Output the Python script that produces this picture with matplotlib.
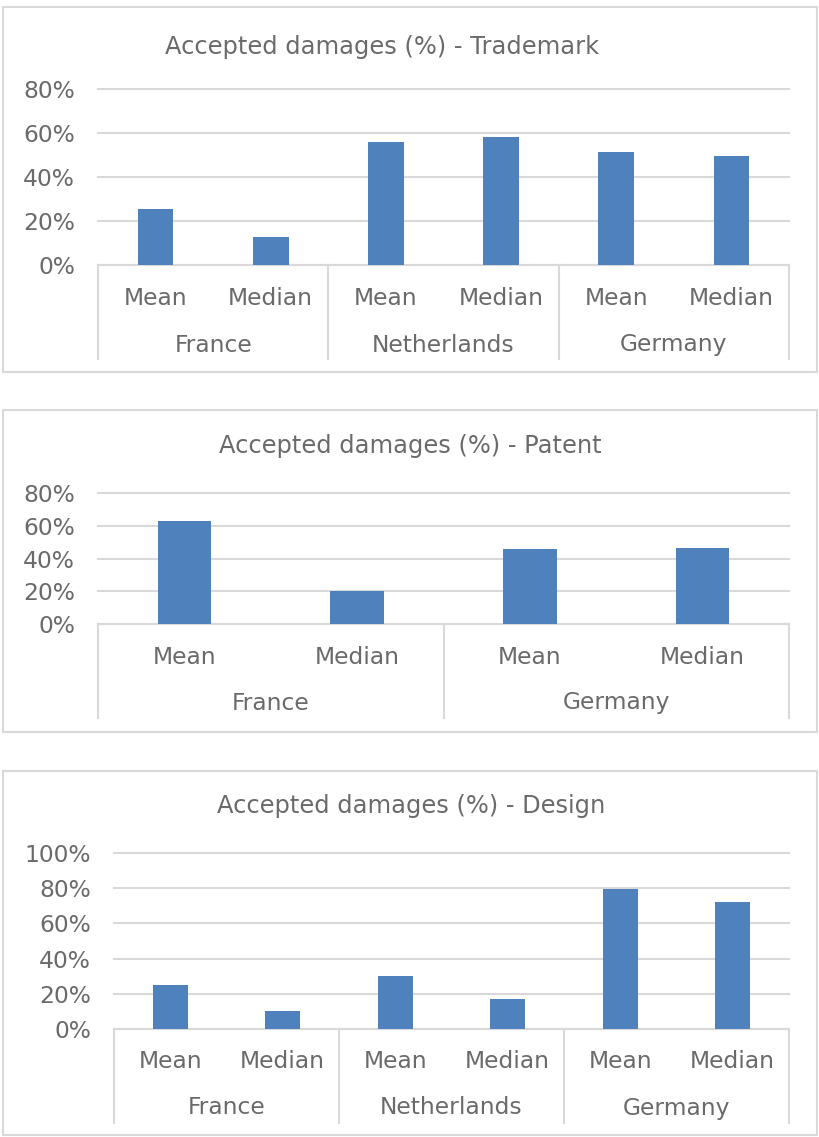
import matplotlib
matplotlib.use("Agg")
import matplotlib.pyplot as plt
from matplotlib.patches import Rectangle
from matplotlib.ticker import PercentFormatter, MultipleLocator

stat_labels = ["Mean", "Median"]

tm_countries = ["France", "Netherlands", "Germany"]
tm_mean = [25.5, 55.9, 51.2]
tm_median = [12.6, 58.3, 49.7]

pat_countries = ["France", "Germany"]
pat_mean = [62.7, 45.6]
pat_median = [20.2, 46.2]

des_countries = ["France", "Netherlands", "Germany"]
des_mean = [24.9, 30.0, 79.6]
des_median = [10.4, 17.2, 72.4]

W, H = 819, 1137
BAR = "#4F81BD"
GRID = "#D9D9D9"
TXT = "#6A6A6A"
FS = 16.8
TFS = 17.4
plt.rcParams['font.family'] = ['DejaVu Sans']

fig = plt.figure(figsize=(W / 100, H / 100), dpi=100)
fig.patch.set_facecolor("white")


def px_rect(l, t, r, b):
    return [l / W, 1 - b / H, (r - l) / W, (b - t) / H]


def panel(box, plot, title, title_x, title_y, countries, means, medians,
          ymax, stat_y, country_y, sep_bottom):
    bl, bt, br, bb = box
    fig.patches.append(Rectangle((bl / W, 1 - bb / H), (br - bl) / W, (bb - bt) / H,
                                 transform=fig.transFigure, fill=False,
                                 edgecolor=GRID, linewidth=1.5))
    fig.text(title_x / W, 1 - title_y / H, title, ha="center", va="center",
             fontsize=TFS, color=TXT)
    pl, pt, pr, pb = plot
    ax = fig.add_axes(px_rect(pl, pt, pr, pb))
    cats, vals = [], []
    for c, mn, md in zip(countries, means, medians):
        cats += [(c, stat_labels[0]), (c, stat_labels[1])]
        vals += [mn, md]
    xs = list(range(len(vals)))
    ax.bar(xs, vals, width=0.31, color=BAR, zorder=3)
    ax.set_xlim(-0.5, len(vals) - 0.5)
    ax.set_ylim(0, ymax)
    ax.yaxis.set_major_locator(MultipleLocator(20))
    ax.yaxis.set_major_formatter(PercentFormatter(100, decimals=0))
    ax.grid(axis="y", color=GRID, linewidth=1.5, zorder=0)
    for gl in ax.get_ygridlines():
        gl.set_clip_on(False)
    ax.set_axisbelow(True)
    for s in ["top", "left", "right"]:
        ax.spines[s].set_visible(False)
    ax.spines["bottom"].set_color(GRID)
    ax.spines["bottom"].set_linewidth(1.5)
    ax.set_xticks([])
    ax.tick_params(axis="y", length=0, pad=23 * 72 / 100, labelsize=FS, labelcolor=TXT)
    ax.set_facecolor("none")
    hpx = pb - pt
    tr = ax.get_xaxis_transform()
    for x, (c, s) in zip(xs, cats):
        ax.text(x, (pb - stat_y) / hpx, s, transform=tr, ha="center", va="center",
                fontsize=FS, color=TXT, clip_on=False)
    for i, c in enumerate(countries):
        ax.text(2 * i + 0.5, (pb - country_y) / hpx, c, transform=tr, ha="center",
                va="center", fontsize=FS, color=TXT, clip_on=False)
    for i in range(len(countries) + 1):
        ax.plot([2 * i - 0.5, 2 * i - 0.5], [0, (pb - sep_bottom) / hpx], transform=tr,
                color=GRID, linewidth=1.5, clip_on=False)
    return ax


panel((3, 7, 817, 372), (98, 89, 789, 265), "Accepted damages (%) - Trademark", 382, 47,
      tm_countries, tm_mean, tm_median, 80, 298, 345, 359)
panel((3, 410, 817, 732), (98, 493, 789, 624), "Accepted damages (%) - Patent", 410, 446,
      pat_countries, pat_mean, pat_median, 80, 657, 703, 718)
panel((3, 771, 817, 1135), (114, 853, 789, 1029), "Accepted damages (%) - Design", 411, 806,
      des_countries, des_mean, des_median, 100, 1062, 1108, 1123)

fig.savefig("out.png", dpi=100, facecolor="white")
